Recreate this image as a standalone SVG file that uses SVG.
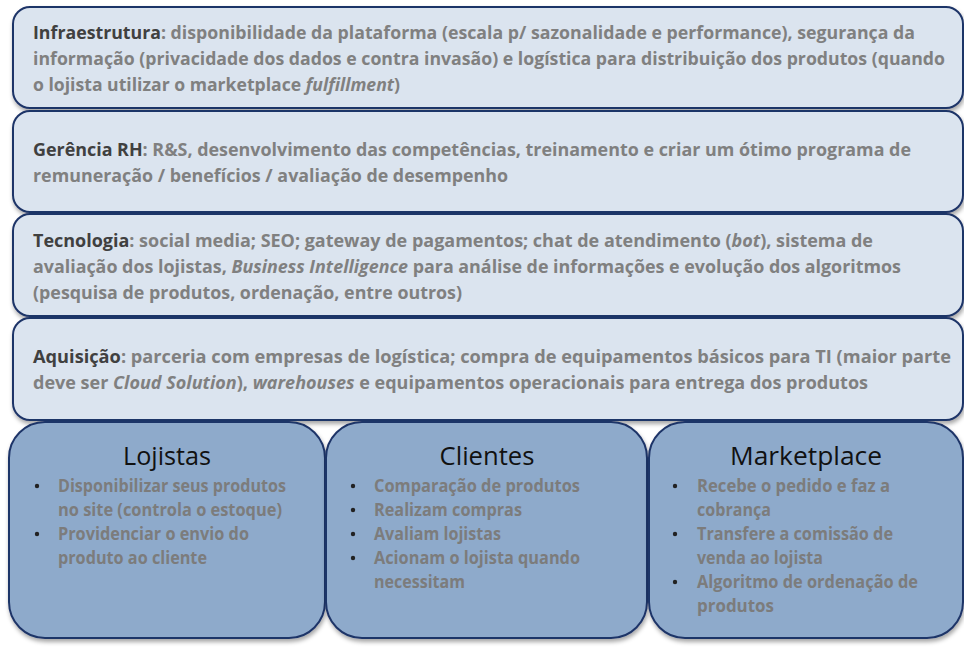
<svg xmlns="http://www.w3.org/2000/svg" width="964" height="648" viewBox="0 0 964 648">
<defs>
<filter id="sh" x="-5%" y="-5%" width="110%" height="115%">
<feDropShadow dx="1" dy="3" stdDeviation="2" flood-color="#000" flood-opacity="0.35"/>
</filter>
</defs>
<style>
.top{fill:#dbe4ef;stroke:#1f3468;stroke-width:2}
.bot{fill:#8eaacb;stroke:#1f3468;stroke-width:2}
.t{font-family:"Open Sans","Liberation Sans",sans-serif;font-size:18.5px;font-weight:bold;fill:#808080}
.lab{fill:#404040}
.it{font-style:italic}
.ttl{font-family:"Open Sans","Liberation Sans",sans-serif;font-size:25px;fill:#111}
.b{font-family:"Open Sans","Liberation Sans",sans-serif;font-size:17.5px;font-weight:bold;fill:#7c7c7c}
.dot{fill:#222}
</style>
<g id="infraestrutura">
<rect class="top" x="13" y="7" width="950" height="101" rx="17" filter="url(#sh)"/>
<text class="t" x="33" y="39" textLength="882" lengthAdjust="spacingAndGlyphs"><tspan class="lab">Infraestrutura</tspan>: disponibilidade da plataforma (escala p/ sazonalidade e performance), segurança da</text>
<text class="t" x="33" y="65" textLength="912" lengthAdjust="spacingAndGlyphs">informação (privacidade dos dados e contra invasão) e logística para distribuição dos produtos (quando</text>
<text class="t" x="33" y="91" textLength="367" lengthAdjust="spacingAndGlyphs">o lojista utilizar o marketplace <tspan class="it">fulfillment</tspan>)</text>
</g>
<g id="gerencia-rh">
<rect class="top" x="13" y="111" width="950" height="101" rx="17" filter="url(#sh)"/>
<text class="t" x="33" y="156" textLength="878" lengthAdjust="spacingAndGlyphs"><tspan class="lab">Gerência RH</tspan>: R&amp;S, desenvolvimento das competências, treinamento e criar um ótimo programa de</text>
<text class="t" x="33" y="182" textLength="475" lengthAdjust="spacingAndGlyphs">remuneração / benefícios / avaliação de desempenho</text>
</g>
<g id="tecnologia">
<rect class="top" x="13" y="214" width="950" height="102" rx="17" filter="url(#sh)"/>
<text class="t" x="33" y="247" textLength="840" lengthAdjust="spacingAndGlyphs"><tspan class="lab">Tecnologia</tspan>: social media; SEO; gateway de pagamentos; chat de atendimento (<tspan class="it">bot</tspan>), sistema de</text>
<text class="t" x="33" y="273" textLength="868" lengthAdjust="spacingAndGlyphs">avaliação dos lojistas, <tspan class="it">Business Intelligence</tspan> para análise de informações e evolução dos algoritmos</text>
<text class="t" x="33" y="299" textLength="429" lengthAdjust="spacingAndGlyphs">(pesquisa de produtos, ordenação, entre outros)</text>
</g>
<g id="aquisicao">
<rect class="top" x="13" y="318" width="950" height="102" rx="17" filter="url(#sh)"/>
<text class="t" x="33" y="363" textLength="918" lengthAdjust="spacingAndGlyphs"><tspan class="lab">Aquisição</tspan>: parceria com empresas de logística; compra de equipamentos básicos para TI (maior parte</text>
<text class="t" x="33" y="389" textLength="835" lengthAdjust="spacingAndGlyphs">deve ser <tspan class="it">Cloud Solution</tspan>), <tspan class="it">warehouses</tspan> e equipamentos operacionais para entrega dos produtos</text>
</g>
<g id="lojistas">
<rect class="bot" x="9" y="422" width="316" height="216" rx="36" filter="url(#sh)"/>
<text class="ttl" x="167" y="465" text-anchor="middle" textLength="88" lengthAdjust="spacingAndGlyphs">Lojistas</text>
<circle class="dot" cx="37" cy="486" r="2.2"/>
<circle class="dot" cx="37" cy="534" r="2.2"/>
<text class="b" x="58" y="492" textLength="228" lengthAdjust="spacingAndGlyphs">Disponibilizar seus produtos</text>
<text class="b" x="58" y="516" textLength="224" lengthAdjust="spacingAndGlyphs">no site (controla o estoque)</text>
<text class="b" x="58" y="540" textLength="191" lengthAdjust="spacingAndGlyphs">Providenciar o envio do</text>
<text class="b" x="58" y="564" textLength="149" lengthAdjust="spacingAndGlyphs">produto ao cliente</text>
</g>
<g id="clientes">
<rect class="bot" x="326" y="422" width="321" height="216" rx="36" filter="url(#sh)"/>
<text class="ttl" x="487" y="465" text-anchor="middle" textLength="95" lengthAdjust="spacingAndGlyphs">Clientes</text>
<circle class="dot" cx="353" cy="486" r="2.2"/>
<circle class="dot" cx="353" cy="510" r="2.2"/>
<circle class="dot" cx="353" cy="534" r="2.2"/>
<circle class="dot" cx="353" cy="558" r="2.2"/>
<text class="b" x="374" y="492" textLength="206" lengthAdjust="spacingAndGlyphs">Comparação de produtos</text>
<text class="b" x="374" y="516" textLength="148" lengthAdjust="spacingAndGlyphs">Realizam compras</text>
<text class="b" x="374" y="540" textLength="127" lengthAdjust="spacingAndGlyphs">Avaliam lojistas</text>
<text class="b" x="374" y="564" textLength="206" lengthAdjust="spacingAndGlyphs">Acionam o lojista quando</text>
<text class="b" x="374" y="588" textLength="91" lengthAdjust="spacingAndGlyphs">necessitam</text>
</g>
<g id="marketplace">
<rect class="bot" x="649" y="422" width="314" height="216" rx="36" filter="url(#sh)"/>
<text class="ttl" x="806" y="465" text-anchor="middle" textLength="152" lengthAdjust="spacingAndGlyphs">Marketplace</text>
<circle class="dot" cx="675" cy="486" r="2.2"/>
<circle class="dot" cx="675" cy="534" r="2.2"/>
<circle class="dot" cx="675" cy="582" r="2.2"/>
<text class="b" x="697" y="492" textLength="193" lengthAdjust="spacingAndGlyphs">Recebe o pedido e faz a</text>
<text class="b" x="697" y="516" textLength="74" lengthAdjust="spacingAndGlyphs">cobrança</text>
<text class="b" x="697" y="540" textLength="196" lengthAdjust="spacingAndGlyphs">Transfere a comissão de</text>
<text class="b" x="697" y="564" textLength="126" lengthAdjust="spacingAndGlyphs">venda ao lojista</text>
<text class="b" x="697" y="588" textLength="221" lengthAdjust="spacingAndGlyphs">Algoritmo de ordenação de</text>
<text class="b" x="697" y="612" textLength="77" lengthAdjust="spacingAndGlyphs">produtos</text>
</g>
<g id="connectors"/>
</svg>
